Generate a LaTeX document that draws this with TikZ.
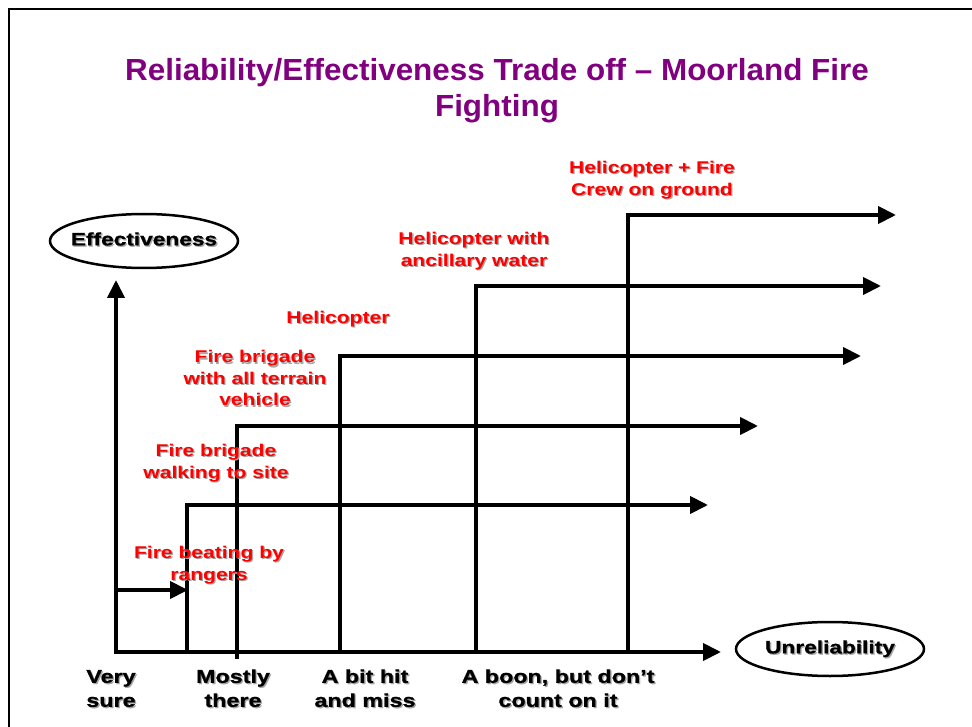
\documentclass[tikz,border=0pt]{standalone}
\usepackage{fontspec}
\usetikzlibrary{arrows.meta,shapes.geometric}
\newfontfamily\titlef[FakeStretch=1.03]{Liberation Sans}
\newfontfamily\labf[FakeStretch=1.24]{Liberation Sans}
\newfontfamily\axf[FakeStretch=1.26,FakeBold=1]{Liberation Sans}
\definecolor{titlepurple}{HTML}{800080}
\newcommand\shtext[1]{\makebox[0pt][l]{\hspace{1.3pt}\raisebox{-1.3pt}[0pt][0pt]{\color{black!35}\begin{tabular}{@{}c@{}}#1\end{tabular}}}\begin{tabular}{@{}c@{}}#1\end{tabular}}
\tikzset{
  frameline/.style={line width=2pt},
  axisline/.style={line width=4pt, {Triangle[length=18pt,width=17pt]}-{Triangle[length=18pt,width=17pt]}},
  stepline/.style={line width=4pt, line join=miter, -{Triangle[length=18pt,width=17pt]}},
  redlab/.style={text=red, inner sep=0pt, font=\labf\bfseries\fontsize{17}{21.5}\selectfont},
  blacklab/.style={text=black, inner sep=0pt, font=\axf\bfseries\fontsize{18.5}{24}\selectfont},
  oval/.style={ellipse, draw, line width=2.5pt, minimum width=188pt, minimum height=54pt, inner xsep=-9pt, inner ysep=4pt, font=\axf\bfseries\fontsize{18}{22}\selectfont},
}
\begin{document}
\begin{tikzpicture}[x=1pt,y=-1pt]
\useasboundingbox (0,0) rectangle (972,727);
% frame
\coordinate (fbl) at (9,728);
\coordinate (ftl) at (9,9);
\coordinate (ftr) at (973,9);
\draw[frameline] (fbl) -- (ftl) -- (ftr);
% title
\node[text=titlepurple, align=center, inner sep=0pt, font=\titlef\bfseries\fontsize{30.5}{36}\selectfont] (title) at (497,91) {Reliability/Effectiveness Trade off – Moorland Fire\\Fighting};
% axes
\coordinate (o) at (116,652);
\coordinate (ytip) at (116,280);
\coordinate (xtip) at (721,652);
\draw[axisline] (ytip) -- (o) -- (xtip);
\node[oval] (eff) at (144,241) {\shtext{Effectiveness}};
\node[oval] (unrel) at (830,649) {\shtext{Unreliability}};
% steps
\coordinate (s0a) at (116,590);
\coordinate (s0b) at (188,590);
\draw[stepline] (s0a) -- (s0b);
\coordinate (b1) at (187,652);
\coordinate (t1) at (708,505);
\draw[stepline] (b1) |- (t1);
\coordinate (b2) at (237,659);
\coordinate (t2) at (758,426);
\draw[stepline] (b2) |- (t2);
\coordinate (b3) at (340,652);
\coordinate (t3) at (861,356);
\draw[stepline] (b3) |- (t3);
\coordinate (b4) at (476,652);
\coordinate (t4) at (881,286);
\draw[stepline] (b4) |- (t4);
\coordinate (b5) at (628,652);
\coordinate (t5) at (896,215);
\draw[stepline] (b5) |- (t5);
% red labels
\node[redlab] (l0) at (209,565) {\shtext{Fire beating by\\rangers}};
\node[redlab] (l1) at (216,463) {\shtext{Fire brigade\\walking to site}};
\node[redlab] (l2) at (255,380) {\shtext{Fire brigade\\with all terrain\\vehicle}};
\node[redlab] (l3) at (338,319) {\shtext{Helicopter}};
\node[redlab] (l4) at (474,251) {\shtext{Helicopter with\\ancillary water}};
\node[redlab] (l5) at (652,180) {\shtext{Helicopter + Fire\\Crew on ground}};
% bottom labels
\node[blacklab] (x1) at (111,690) {\shtext{Very\\sure}};
\node[blacklab] (x2) at (233,690) {\shtext{Mostly\\there}};
\node[blacklab] (x3) at (365,690) {\shtext{A bit hit\\and miss}};
\node[blacklab] (x4) at (558,690) {\shtext{A boon, but don’t\\count on it}};
\end{tikzpicture}
\end{document}
